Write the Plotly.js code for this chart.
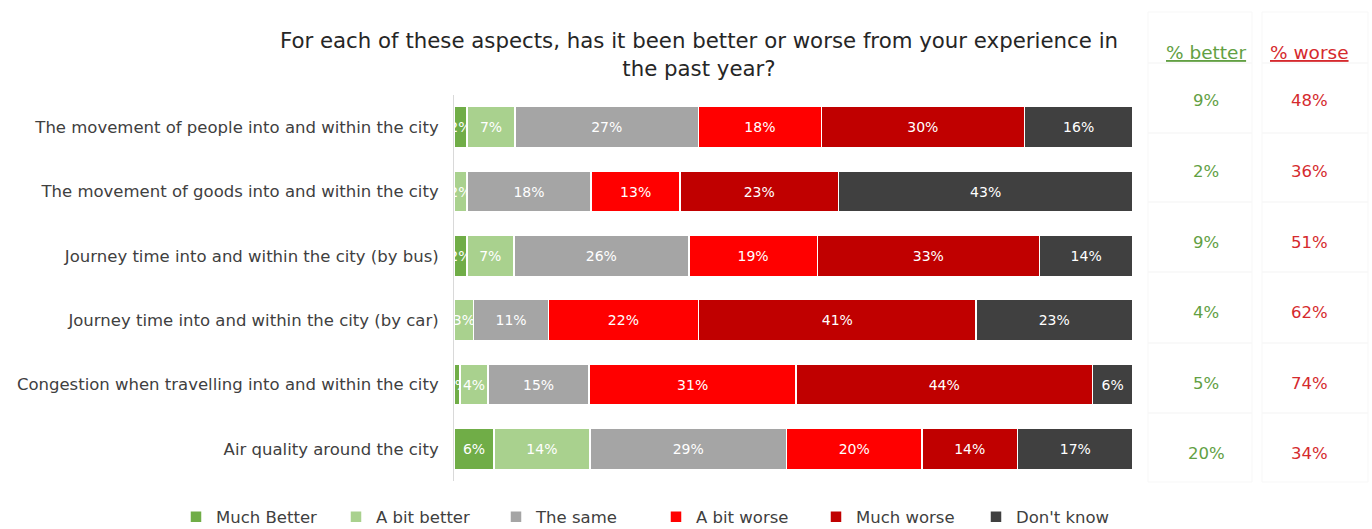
<!DOCTYPE html>
<html>
<head>
<meta charset="utf-8">
<script src="https://cdn.plot.ly/plotly-3.0.1.min.js"></script>
<style>html,body{margin:0;padding:0;background:#fff;}#chart{width:1372px;height:529px;}</style>
</head>
<body>
<div id="chart"></div>
<script>
// ---- data ----
const categories = [
  "The movement of people into and within the city",
  "The movement of goods into and within the city",
  "Journey time into and within the city (by bus)",
  "Journey time into and within the city (by car)",
  "Congestion when travelling into and within the city",
  "Air quality around the city"
];
const seriesNames = ["Much Better", "A bit better", "The same", "A bit worse", "Much worse", "Don't know"];
const muchBetter = [1.9, null, 1.9, null, 0.9, 5.9];
const aBitBetter = [7.1, 1.9, 6.9, 2.9, 4.1, 14.1];
const theSame    = [27.0, 18.3, 25.8, 11.0, 14.9, 29.0];
const aBitWorse  = [18.1, 13.1, 18.9, 22.1, 30.5, 19.9];
const muchWorse  = [29.9, 23.3, 32.7, 40.9, 43.6, 14.1];
const dontKnow   = [16.0, 43.4, 13.8, 23.0, 6.0, 17.0];
const pctBetter  = ["9%", "2%", "9%", "4%", "5%", "20%"];
const pctWorse   = ["48%", "36%", "51%", "62%", "74%", "34%"];
const tableHeaders = ["% better", "% worse"];
const titleText = "For each of these aspects, has it been better or worse from your experience in<br>the past year?";

// ---- styling ----
const colors = ["#70AD47", "#A9D18E", "#A5A5A5", "#FF0000", "#C00000", "#404040"];
const FONT = "DejaVu Sans, sans-serif";
const W = 1372, H = 529;
const M = {l: 454, r: 239, t: 95, b: 48, autoexpand: false};
const PW = W - M.l - M.r, PH = H - M.t - M.b;
const px2x = px => (px - M.l) / PW;
const py2y = py => (H - M.b - py) / PH;

const seriesValues = [muchBetter, aBitBetter, theSame, aBitWorse, muchWorse, dontKnow];
const traces = seriesNames.map((name, i) => ({
  type: "bar",
  orientation: "h",
  name: name,
  y: categories,
  x: seriesValues[i],
  marker: {color: colors[i], line: {color: "#ffffff", width: 1.5}},
  texttemplate: "%{x:.0f}%",
  textposition: "inside",
  insidetextanchor: "middle",
  constraintext: "none",
  textangle: 0,
  textfont: {color: "#ffffff", size: 14, family: FONT},
  hoverinfo: "name+x"
}));

const annotations = [];
const shapes = [];
const colX = [1206, 1309];
const rowY = [100, 171, 242, 312, 383, 453];
const colColors = ["#62A043", "#D52A2E"];
// table cell faint borders
const cellX = [[1148, 1252], [1262, 1368]];
const cellY = [12, 63, 133, 202, 272, 343, 413, 482];
cellX.forEach(cx => {
  for (let r = 0; r < cellY.length - 1; r++) {
    shapes.push({type: "rect", xref: "paper", yref: "paper",
      x0: px2x(cx[0]), x1: px2x(cx[1]), y0: py2y(cellY[r]), y1: py2y(cellY[r + 1]),
      line: {color: "#f7f7f7", width: 1}, layer: "below"});
  }
});
tableHeaders.forEach((h, c) => {
  annotations.push({xref: "paper", yref: "paper", x: px2x(colX[c]), y: py2y(52),
    text: "<u>" + h + "</u>", showarrow: false, xanchor: "center", yanchor: "middle",
    font: {family: FONT, size: 18.5, color: colColors[c]}});
});
[pctBetter, pctWorse].forEach((arr, c) => {
  arr.forEach((v, r) => {
    annotations.push({xref: "paper", yref: "paper", x: px2x(colX[c]), y: py2y(rowY[r]),
      text: v, showarrow: false, xanchor: "center", yanchor: "middle",
      font: {family: FONT, size: 16.5, color: colColors[c]}});
  });
});

const layout = {
  width: W, height: H,
  margin: M,
  paper_bgcolor: "#ffffff", plot_bgcolor: "#ffffff",
  barmode: "stack",
  bargap: 0.36,
  font: {family: FONT, color: "#404040"},
  title: {text: titleText, x: 699 / W, xref: "container", xanchor: "center",
    y: 1 - 48 / H, yref: "container", yanchor: "top",
    font: {family: FONT, size: 21.3, color: "#262626"}},
  xaxis: {range: [0, 100], visible: false, fixedrange: true},
  yaxis: {type: "category", autorange: "reversed", showline: true, linecolor: "#d9d9d9", linewidth: 1,
    ticks: "", showgrid: false, zeroline: false, ticklabelstandoff: 11,
    tickfont: {family: FONT, size: 16.5, color: "#404040"}},
  legend: {orientation: "h", x: px2x(176), xanchor: "left", y: py2y(517), yanchor: "middle",
    font: {family: FONT, size: 16.5, color: "#404040"}, traceorder: "normal",
    entrywidth: 115, entrywidthmode: "pixels", itemwidth: 30},
  annotations: annotations,
  shapes: shapes,
  showlegend: true
};

Plotly.newPlot("chart", traces, layout, {displayModeBar: false, staticPlot: true});
</script>
</body>
</html>
